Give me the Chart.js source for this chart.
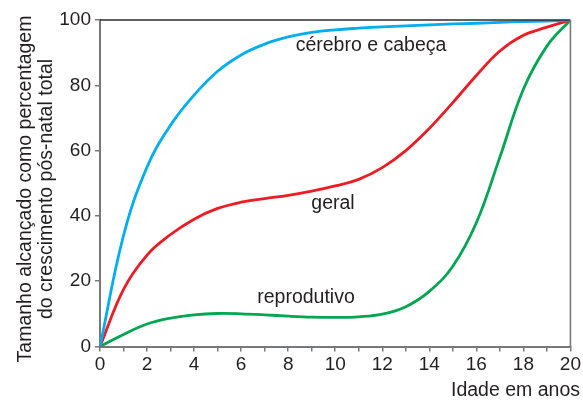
<!DOCTYPE html>
<html>
<head>
<meta charset="utf-8">
<script src="https://cdn.jsdelivr.net/npm/chart.js@4"></script>
<style>
  html, body { margin: 0; padding: 0; background: #fff; }
  #wrap { width: 583px; height: 402px; }
</style>
</head>
<body>
<div id="wrap"><canvas id="grafico"></canvas></div>
<script>
const idade = [0, 1, 2, 3, 4, 5, 6, 7, 8, 9, 10, 11, 12, 13, 14, 15, 16, 17, 18, 19, 20];
const cerebro = [0, 34, 55, 67.8, 77, 84.3, 89.3, 92.6, 94.8, 96.2, 97, 97.5, 97.9, 98.2, 98.5, 98.8, 99, 99.3, 99.5, 99.7, 100];
const geral = [0, 17.5, 28, 34.3, 39, 42.3, 44.2, 45.3, 46.3, 47.6, 49.2, 51.2, 54.8, 60, 66.8, 74.7, 83, 90.5, 95.3, 97.8, 100];
const reprodutivo = [0, 3.7, 6.9, 8.7, 9.7, 10.1, 10, 9.7, 9.3, 9, 8.9, 9.1, 9.9, 12.2, 16.9, 24.6, 37.9, 58, 78.8, 92, 100];

const ticksX = [0, 2, 4, 6, 8, 10, 12, 14, 16, 18, 20];
const ticksY = [0, 20, 40, 60, 80, 100];

const corTexto = "#231f20";
const corEixo = "#77787b";
const fonte = "'Liberation Sans', Arial, sans-serif";

const pontos = serie => idade.map((x, i) => ({ x: x, y: serie[i] }));

const textos = {
  id: "textos",
  afterDraw(chart) {
    const ctx = chart.ctx;
    const a = chart.chartArea;
    ctx.save();
    // moldura superior e direita
    ctx.strokeStyle = "#2b2b2b";
    ctx.lineWidth = 1.4;
    ctx.beginPath();
    ctx.moveTo(a.left, a.top);
    ctx.lineTo(a.right, a.top);
    ctx.stroke();
    ctx.strokeStyle = corEixo;
    ctx.lineWidth = 1.6;
    ctx.beginPath();
    ctx.moveTo(a.right, a.top);
    ctx.lineTo(a.right, a.bottom);
    ctx.stroke();

    ctx.fillStyle = corTexto;
    ctx.font = "19.5px " + fonte;
    ctx.textBaseline = "middle";
    ctx.textAlign = "center";
    ctx.fillText("cérebro e cabeça", 371, 46);
    ctx.fillText("geral", 333, 204);
    ctx.fillText("reprodutivo", 306, 298);

    ctx.textAlign = "right";
    ctx.fillText("Idade em anos", 580, 391);

    ctx.save();
    ctx.translate(26, 189);
    ctx.rotate(-Math.PI / 2);
    ctx.textAlign = "center";
    ctx.fillText("Tamanho alcançado como percentagem", 0, 0);
    ctx.fillText("do crescimento pós-natal total", 0, 21);
    ctx.restore();
    ctx.restore();
  }
};

new Chart(document.getElementById("grafico").getContext("2d"), {
  type: "line",
  data: {
    datasets: [
      { label: "cérebro e cabeça", data: pontos(cerebro), borderColor: "#00aeef" },
      { label: "geral", data: pontos(geral), borderColor: "#ed1c24" },
      { label: "reprodutivo", data: pontos(reprodutivo), borderColor: "#00a651" }
    ]
  },
  options: {
    responsive: true,
    maintainAspectRatio: false,
    animation: false,
    layout: { padding: { left: 0, right: 12, top: 20, bottom: 0 } },
    elements: {
      point: { radius: 0 },
      line: { borderWidth: 2.8, tension: 0.4 }
    },
    plugins: {
      legend: { display: false },
      tooltip: { enabled: false }
    },
    scales: {
      x: {
        type: "linear",
        min: 0,
        max: 20,
        afterFit: s => { s.height = 55.5; },
        ticks: {
          stepSize: 1,
          autoSkip: false,
          maxRotation: 0,
          padding: 2,
          color: corTexto,
          font: { family: fonte, size: 19 },
          callback: v => ticksX.includes(v) ? v : ""
        },
        grid: { drawOnChartArea: false, tickLength: 5, color: corEixo, lineWidth: 1.5 },
        border: { color: corEixo, width: 2 }
      },
      y: {
        min: 0,
        max: 100,
        afterFit: s => { s.width = 100; },
        ticks: {
          stepSize: 20,
          padding: 4,
          color: corTexto,
          font: { family: fonte, size: 19 },
          callback: v => ticksY.includes(v) ? v : ""
        },
        grid: { drawOnChartArea: false, tickLength: 5, color: corEixo, lineWidth: 1.5 },
        border: { color: corEixo, width: 2 }
      }
    }
  },
  plugins: [textos]
});
</script>
</body>
</html>
